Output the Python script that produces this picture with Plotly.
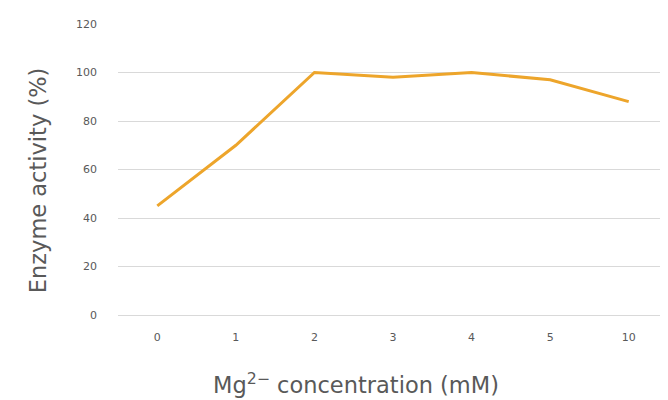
import plotly.graph_objects as go

concentration = ["0", "1", "2", "3", "4", "5", "10"]
activity = [45, 70, 100, 98, 100, 97, 88]
y_ticks = [0, 20, 40, 60, 80, 100, 120]

fig = go.Figure()
fig.add_trace(go.Scatter(
    x=concentration, y=activity, mode="lines",
    line=dict(color="#EDA52B", width=3),
    showlegend=False,
))

# page body has an 8px margin, so offset the plot area accordingly
fig.update_layout(
    width=660, height=392,
    margin=dict(l=110, r=0, t=16, b=85),
    plot_bgcolor="white", paper_bgcolor="white",
    font=dict(family="DejaVu Sans, Liberation Sans, sans-serif", color="#595959"),
    xaxis=dict(
        type="category", range=[-0.5, 6.5],
        showgrid=False, zeroline=False, showline=False,
        ticks="", ticklabelstandoff=14,
        tickfont=dict(size=11, color="#595959"),
    ),
    yaxis=dict(
        range=[0, 120], tickvals=y_ticks,
        showgrid=True, gridcolor="#d9d9d9", gridwidth=1,
        zeroline=True, zerolinecolor="#d9d9d9", zerolinewidth=1,
        showline=False, ticks="", ticklabelstandoff=20,
        tickfont=dict(size=11, color="#595959"),
    ),
)

# axis titles as annotations, since they sit off-centre like the Excel original
fig.add_annotation(
    text="Mg<sup>2−</sup> concentration (mM)", xref="paper", yref="paper",
    x=0.433, y=-0.234, xanchor="center", yanchor="middle", showarrow=False,
    font=dict(size=22.5, color="#595959"),
)
fig.add_annotation(
    text="Enzyme activity (%)", xref="paper", yref="paper", textangle=-90,
    x=-0.145, y=0.464, xanchor="center", yanchor="middle", showarrow=False,
    font=dict(size=22.5, color="#595959"),
)

fig.write_html("out.html")
